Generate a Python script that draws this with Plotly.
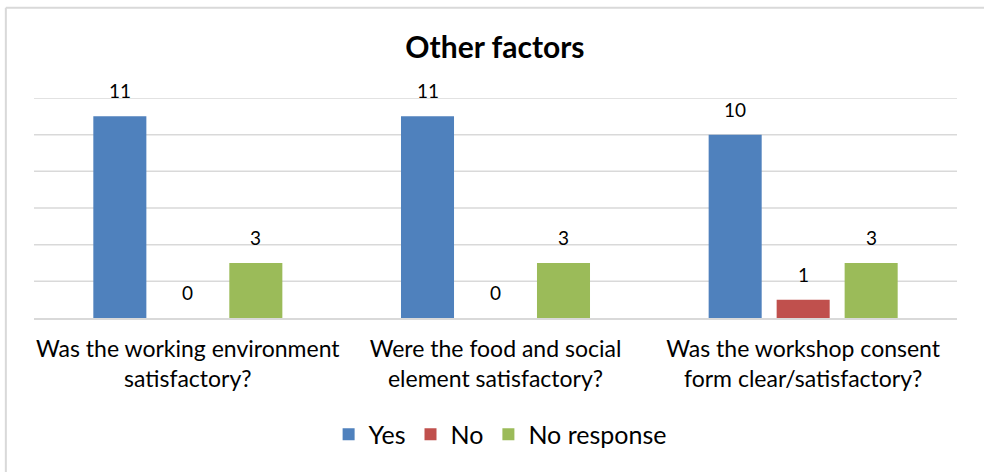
import plotly.graph_objects as go

categories = [
    "Was the working environment<br>satisfactory?",
    "Were the food and social<br>element satisfactory?",
    "Was the workshop consent<br>form clear/satisfactory?",
]
series_names = ["Yes", "No", "No response"]
yes_values = [11, 11, 10]
no_values = [0, 0, 1]
no_response_values = [3, 3, 3]
colors = ["#4F81BD", "#C0504D", "#9BBB59"]
grid_values = [2, 4, 6, 8, 10, 12]

FONT = "Lato"
series_values = [yes_values, no_values, no_response_values]

W, H = 984, 472
M_L, M_R, M_T, M_B = 34, 27, 98, 154
BARGAP = 0.337

fig = go.Figure()
for name, vals, col in zip(series_names, series_values, colors):
    fig.add_trace(go.Bar(
        name=name, x=categories, y=vals, marker=dict(color=col, line=dict(width=0)),
    ))

# value labels above each bar, shifted sideways to the bar's slot in its group
cat_px = (W - M_L - M_R) / len(categories)
slot_px = cat_px * (1 - BARGAP) / len(series_names)
for i, vals in enumerate(series_values):
    for cat, v in zip(categories, vals):
        fig.add_annotation(
            x=cat, y=v, text=str(v), showarrow=False,
            xshift=(i - 1) * slot_px, yshift=12, yanchor="bottom",
            font=dict(family=FONT, size=19, color="#000000"),
        )

# horizontal gridlines, drawn under the bars
for g in grid_values:
    fig.add_shape(type="line", xref="paper", yref="y", x0=0, x1=1, y0=g, y1=g,
                  line=dict(color="#D9D9D9", width=1.5), layer="below")

fig.update_layout(
    width=W, height=H,
    margin=dict(l=M_L, r=M_R, t=M_T, b=M_B),
    paper_bgcolor="white", plot_bgcolor="white",
    barmode="group", bargap=BARGAP, bargroupgap=0.22,
    title=dict(text="<b>Other factors</b>", x=0.503, xanchor="center", y=0.9, yanchor="middle",
               font=dict(family=FONT, size=30, color="#000000")),
    font=dict(family=FONT, color="#000000"),
    showlegend=True,
    legend=dict(orientation="h", x=0.505, xanchor="center", y=-0.53, yanchor="middle",
                font=dict(family=FONT, size=25, color="#000000"), itemwidth=30,
                traceorder="normal"),
)
fig.update_xaxes(showgrid=False, showline=True, linecolor="#D9D9D9", linewidth=1.5,
                 ticks="outside", ticklen=10, tickcolor="rgba(0,0,0,0)",
                 tickfont=dict(family=FONT, size=23, color="#000000"))
fig.update_yaxes(range=[0, 12], showgrid=False,
                 showticklabels=False, zeroline=False, showline=False)

# chart border on the top and left edges
fig.add_shape(type="line", xref="paper", yref="paper", x0=-0.0305, x1=1.05, y0=1.41, y1=1.41,
              line=dict(color="#D9D9D9", width=2))
fig.add_shape(type="line", xref="paper", yref="paper", x0=-0.0305, x1=-0.0305, y0=1.41, y1=-0.7,
              line=dict(color="#D9D9D9", width=2))

fig.write_html("out.html")
